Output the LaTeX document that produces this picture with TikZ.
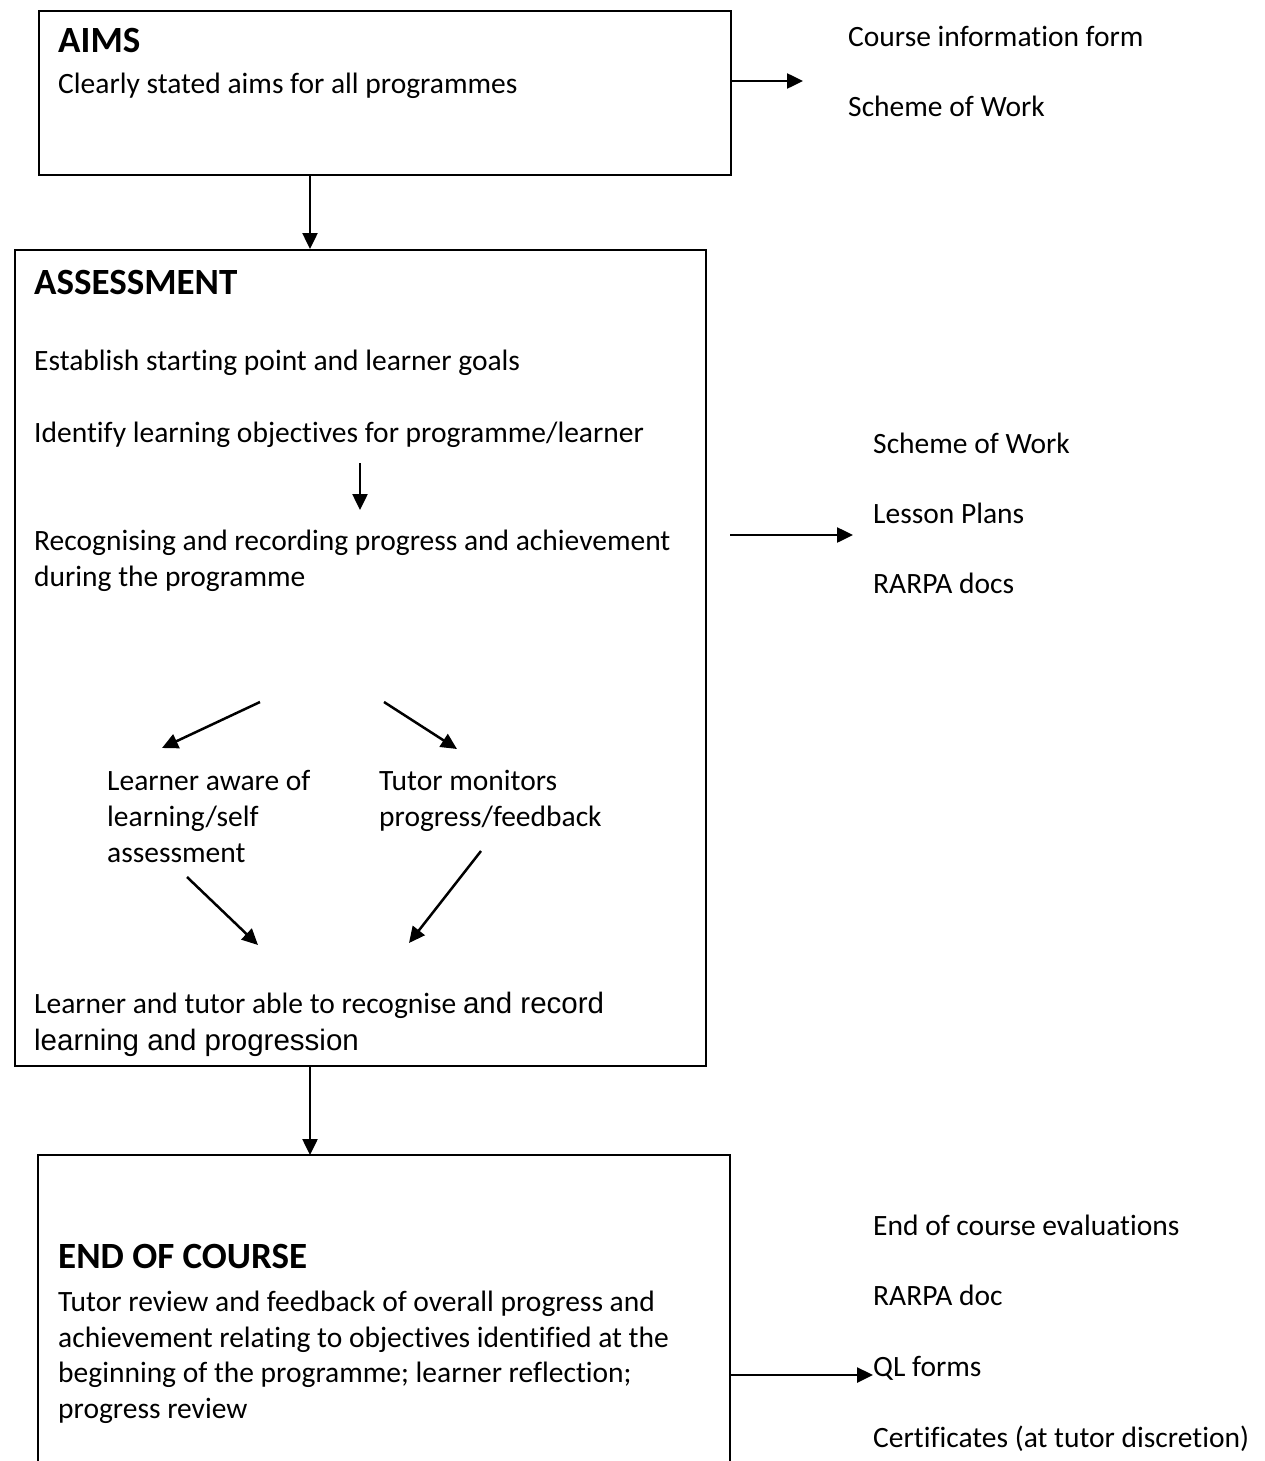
\documentclass[tikz,border=0pt]{standalone}
\usepackage{fontspec}
\setmainfont{Carlito}[RawFeature=-liga]
\newfontfamily\arialfont{Liberation Sans}
\usetikzlibrary{arrows.meta}

\tikzset{
  box/.style={draw, line width=2pt, anchor=north west, inner sep=0pt},
  arr/.style={line width=2.5pt, -{Triangle[length=16pt, width=15pt]}},
  txt/.style={anchor=base west, inner sep=0pt, font=\fontsize{29.5}{36}\selectfont},
  head/.style={anchor=base west, inner sep=0pt, font=\fontsize{37}{44}\selectfont\bfseries},
}

\begin{document}
\begin{tikzpicture}[x=1pt, y=-1pt]
        \useasboundingbox (0,0) rectangle (1264,1461);

        \node[box, minimum width=692pt, minimum height=164pt] (aims) at (38,10) {};
        \node[head] (aimshead) at (58,53) {AIMS};
        \node[txt] (aimstext) at (58,94) {Clearly stated aims for all programmes};
        \node[txt] (cif) at (848,47) {Course information form};
        \node[txt] (sow1) at (848,117) {Scheme of Work};

        \node[box, minimum width=691pt, minimum height=816pt] (assess) at (14,249) {};
        \node[head] (asshead) at (34,294) {ASSESSMENT};
        \node[txt] (est) at (34,370) {Establish starting point and learner goals};
        \node[txt] (ident) at (34,442) {Identify learning objectives for programme/learner};
        \node[txt] (recog) at (34,550) {Recognising and recording progress and achievement};
        \node[txt] (during) at (34,586) {during the programme};
        \node[txt, align=left] (aware) at (107,862) {Learner aware of\\learning/self\\assessment};
        \node[txt, align=left] (tutor) at (379,826) {Tutor monitors\\progress/feedback};
        \node[txt] (able) at (34,1013) {Learner and tutor able to recognise {\arialfont and record}};
        \node[txt] (learn) at (34,1050) {\arialfont learning and progression};
        \node[txt] (sow2) at (873,453) {Scheme of Work};
        \node[txt] (plans) at (873,523) {Lesson Plans};
        \node[txt] (rarpa1) at (873,593) {RARPA docs};

        \node[anchor=north west, inner sep=0pt, minimum width=692pt, minimum height=310pt] (endbox) at (38,1155) {};
        \draw[line width=2pt] (endbox.south west) -- (endbox.north west) -- (endbox.north east) -- (endbox.south east);
        \node[head] (endhead) at (58,1268) {END OF COURSE};
        \node[txt] (rev1) at (58,1311) {Tutor review and feedback of overall progress and};
        \node[txt] (rev2) at (58,1347) {achievement relating to objectives identified at the};
        \node[txt] (rev3) at (58,1382) {beginning of the programme; learner reflection;};
        \node[txt] (rev4) at (58,1418) {progress review};
        \node[txt] (eval) at (873,1235) {End of course evaluations};
        \node[txt] (rarpa2) at (873,1305) {RARPA doc};
        \node[txt] (ql) at (873,1376) {QL forms};
        \node[txt] (cert) at (873,1447) {Certificates (at tutor discretion)};

        \coordinate (c1) at (310,0);
        \coordinate (m1) at (803,81);
        \coordinate (m2) at (730,535);
        \coordinate (m3) at (853,535);
        \coordinate (q1) at (360,463);
        \coordinate (q2) at (360,510);
        \coordinate (s1) at (260,702);
        \coordinate (s2) at (162,748);
        \coordinate (s3) at (384,702);
        \coordinate (s4) at (457,749);
        \coordinate (j1) at (187,877);
        \coordinate (j2) at (258,945);
        \coordinate (j3) at (481,851);
        \coordinate (j4) at (409,943);
        \coordinate (e1) at (730,1375);

        \draw[arr] (aims.south -| c1) -- (assess.north -| c1);
        \draw[arr] (aims.east |- m1) -- (m1);
        \draw[arr] (q1) -- (q2);
        \draw[arr] (m2) -- (m3);
        \draw[arr] (s1) -- (s2);
        \draw[arr] (s3) -- (s4);
        \draw[arr] (j1) -- (j2);
        \draw[arr] (j3) -- (j4);
        \draw[arr] (assess.south -| c1) -- (endbox.north -| c1);
        \draw[arr] (e1) -- (ql.west |- e1);
      \end{tikzpicture}
\end{document}
